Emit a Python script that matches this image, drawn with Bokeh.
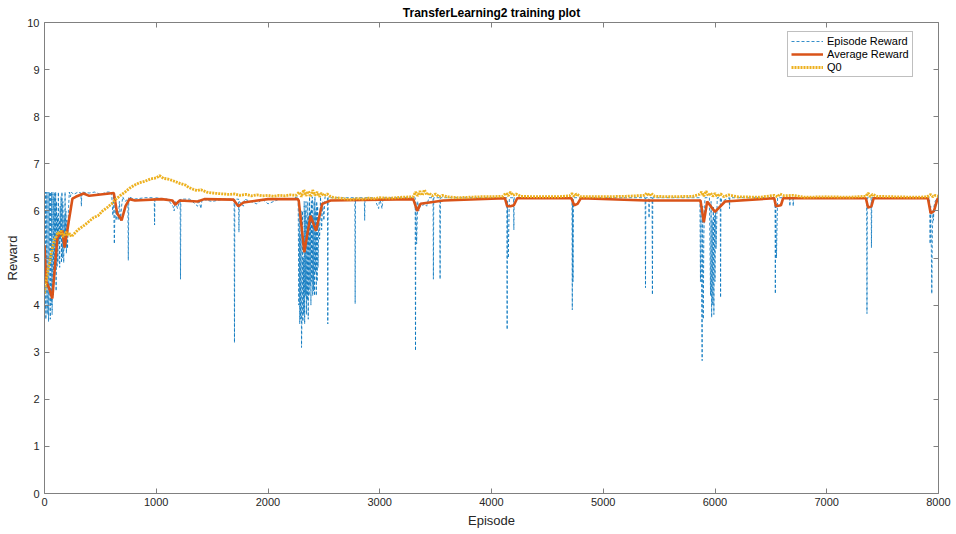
from bokeh.plotting import figure
from bokeh.models import LinearAxis, Legend, LegendItem, FixedTicker, Range1d, CustomLabelingPolicy
from bokeh.embed import file_html
from bokeh.resources import INLINE

# ---------------- data ----------------
episode_x = [
    0, 4, 8, 12, 16, 20, 24, 28, 32, 36, 40, 44, 48, 52, 56, 60, 64, 68, 72, 76,
    80, 84, 88, 92, 96, 100, 104, 108, 112, 116, 120, 124, 128, 132, 136, 140, 144, 148, 152, 156,
    160, 164, 168, 172, 176, 180, 184, 188, 192, 196, 200, 206, 214, 222, 232, 240,
    260, 300, 326, 330, 334, 400, 450, 500, 560, 600,
    612, 618, 625, 632, 640, 650, 660, 670, 680, 690, 700, 720, 746, 750, 754, 800,
    900, 982, 985, 988, 1100, 1150, 1160, 1170, 1190, 1214, 1217, 1220, 1300, 1370, 1380, 1400, 1410, 1500, 1600,
    1697, 1700, 1703, 1737, 1740, 1743, 1780, 1790, 1900, 1950, 2000, 2100, 2200, 2270,
    2276, 2280, 2284, 2288, 2292, 2296, 2300, 2304, 2308, 2312, 2316, 2320, 2324, 2328, 2332, 2336,
    2340, 2344, 2348, 2352, 2356, 2360, 2364, 2368, 2372, 2376, 2380, 2384, 2388, 2392, 2396, 2400,
    2404, 2408, 2412, 2416, 2420, 2424, 2428, 2432, 2436, 2440, 2444, 2448, 2454, 2462, 2470,
    2480, 2490, 2500, 2510, 2532, 2535, 2538, 2600, 2700, 2777, 2780, 2783, 2862, 2865, 2868,
    2950, 2990, 3000, 3020, 3030, 3200, 3317, 3320, 3323, 3330, 3340, 3350, 3360, 3380, 3400, 3420,
    3440, 3477, 3480, 3483, 3537, 3540, 3543, 3700, 3900, 4100, 4137, 4140, 4143, 4150, 4160, 4197, 4200,
    4203, 4400, 4600, 4720, 4723, 4726, 4730, 4734, 5000, 5200, 5375, 5378, 5381, 5407, 5410, 5413,
    5437, 5440, 5443, 5600, 5800, 5865, 5870, 5875, 5880, 5885, 5890, 5895, 5900, 5905, 5910, 5950,
    5960, 5965, 5970, 5975, 5980, 5985, 5990, 5995, 6000, 6005, 6010, 6020, 6047, 6050, 6053, 6060,
    6127, 6130, 6133, 6300, 6537, 6540, 6543, 6550, 6560, 6667, 6670, 6673, 6697, 6700, 6703, 7000,
    7200, 7357, 7360, 7363, 7397, 7400, 7403, 7600, 7800, 7920, 7925, 7930, 7935, 7940, 7945, 7950,
    7955, 7960, 7970, 7990, 8000,
]
episode_reward = [
    4.4, 3.9, 6.4, 3.7, 4.2, 6.4, 3.8, 4.0, 6.4, 3.65, 4.3, 6.4, 4.1, 3.7, 6.4, 4.0, 6.4, 3.8, 4.6, 6.4,
    4.2, 6.3, 4.8, 6.4, 4.9, 6.4, 4.3, 6.2, 4.8, 5.9, 4.9, 6.4, 5.3, 5.8, 4.8, 6.1, 5.4, 6.3, 4.9, 6.4,
    5.0, 6.2, 5.6, 4.9, 5.9, 5.2, 6.4, 5.5, 6.0, 5.1, 5.8, 5.2, 6.0, 6.4, 6.3, 6.4,
    6.35, 6.4, 6.38, 6.1, 6.4, 6.38, 6.4, 6.35, 6.4, 6.4,
    5.9, 6.4, 5.3, 6.3, 5.8, 6.0, 5.8, 6.2, 5.8, 6.1, 6.3, 6.2, 6.25, 4.95, 6.3, 6.25,
    6.28, 6.28, 5.7, 6.28, 6.25, 6.1, 6.0, 6.2, 6.05, 6.25, 4.55, 6.25, 6.25, 6.1, 6.25, 6.05, 6.25, 6.2, 6.25,
    6.25, 3.2, 6.25, 6.25, 5.55, 6.2, 6.1, 6.25, 6.15, 6.25, 6.15, 6.25, 6.25, 6.3,
    4.0, 6.2, 3.6, 5.5, 3.7, 6.0, 3.1, 3.7, 6.0, 3.65, 5.0, 3.8, 6.2, 3.6, 6.0, 4.2,
    6.2, 3.8, 5.8, 4.1, 6.2, 3.7, 5.9, 4.2, 6.3, 4.4, 6.0, 4.0, 6.2, 4.5, 6.3, 4.2,
    5.9, 4.3, 6.2, 4.2, 6.3, 4.7, 6.0, 4.2, 6.2, 4.5, 6.1, 4.8, 5.8, 5.4, 6.3,
    5.6, 6.2, 5.8, 6.3, 6.28, 3.6, 6.28, 6.28, 6.28, 6.28, 4.03, 6.28, 6.28, 5.8, 6.28,
    6.28, 6.05, 6.28, 6.05, 6.28, 6.28, 6.28, 3.03, 6.2, 5.3, 6.2, 6.0, 6.1, 6.1, 6.15, 6.1,
    6.28, 6.28, 4.55, 6.28, 6.28, 4.55, 6.28, 6.28, 6.28, 6.28, 6.28, 3.48, 6.2, 5.0, 6.28, 6.28, 5.6,
    6.28, 6.28, 6.28, 6.28, 3.9, 6.2, 4.5, 6.28, 6.28, 6.28, 6.28, 4.37, 6.28, 6.28, 5.85, 6.28,
    6.28, 4.22, 6.28, 6.28, 6.28, 6.28, 4.5, 6.2, 4.2, 2.82, 6.1, 3.7, 5.4, 5.9, 6.28, 6.28,
    4.2, 6.2, 3.74, 5.8, 4.0, 6.1, 3.8, 5.9, 4.5, 6.0, 5.2, 6.28, 6.28, 4.16, 6.28, 6.2,
    6.28, 6.05, 6.28, 6.28, 6.28, 4.24, 6.2, 5.0, 6.28, 6.28, 6.1, 6.28, 6.28, 6.1, 6.28, 6.28,
    6.28, 6.28, 3.82, 6.28, 6.28, 5.22, 6.28, 6.28, 6.28, 6.28, 5.3, 6.1, 5.4, 4.24, 5.5, 6.0,
    5.8, 6.1, 6.2, 6.28, 6.3,
]

avg_x = [
    0, 15, 40, 70, 115, 160, 180, 215, 250, 280, 350, 400, 620, 650, 690, 725, 760, 810, 1050, 1145,
    1170, 1210, 1370, 1430, 1690, 1735, 1780, 2000, 2265, 2275, 2325, 2380, 2430, 2485, 2560, 3300,
    3335, 3365, 3570, 4120, 4140, 4170, 4200, 4230, 4715, 4740, 4770, 4800, 5380, 5450, 5870, 5900,
    5930, 6000, 6090, 6530, 6545, 6590, 6610, 7350, 7370, 7400, 7420, 7905, 7930, 7960, 7990, 8000,
]
avg_reward = [
    5.27, 4.5, 4.37, 4.14, 5.43, 5.58, 5.22, 5.75, 6.26, 6.3, 6.37, 6.32, 6.38, 5.95, 5.8, 6.1, 6.25, 6.22, 6.25, 6.22,
    6.13, 6.22, 6.2, 6.25, 6.24, 6.1, 6.18, 6.25, 6.25, 6.22, 5.12, 5.9, 5.58, 6.15, 6.22, 6.25,
    6.0, 6.15, 6.22, 6.27, 6.1, 6.1, 6.12, 6.27, 6.27, 6.12, 6.15, 6.27, 6.22, 6.22, 6.22, 5.76,
    6.2, 5.98, 6.2, 6.27, 6.1, 6.12, 6.27, 6.27, 6.07, 6.1, 6.27, 6.27, 5.95, 6.0, 6.25, 6.27,
]

q0_x = [
    0, 15, 30, 45, 60, 75, 90, 105, 120, 135, 150, 165, 180, 195, 210, 225, 240, 260, 280, 300,
    330, 360, 400, 440, 480, 520, 560, 600, 640, 680, 720, 760, 800, 850, 900, 950, 1000, 1030, 1065, 1100,
    1150, 1215, 1260, 1290, 1330, 1365, 1400, 1450, 1500, 1545, 1600, 1650, 1700, 1750, 1800, 1850, 1900, 1950, 2000, 2050,
    2100, 2150, 2200, 2250, 2280, 2300, 2320, 2340, 2360, 2380, 2400, 2420, 2440, 2460, 2480, 2500, 2530, 2560, 2600, 2650,
    2700, 2750, 2800, 2850, 2900, 2950, 3000, 3100, 3200, 3300, 3320, 3340, 3360, 3380, 3400, 3420, 3440, 3470, 3500, 3530,
    3560, 3600, 3700, 3800, 3900, 4000, 4100, 4130, 4150, 4170, 4190, 4220, 4260, 4400, 4600, 4700, 4720, 4740, 4760, 4800,
    5000, 5200, 5370, 5390, 5410, 5430, 5460, 5600, 5800, 5860, 5880, 5900, 5920, 5940, 5960, 5980, 6000, 6020, 6050, 6080,
    6120, 6200, 6400, 6530, 6560, 6580, 6620, 6700, 6800, 7000, 7200, 7350, 7370, 7390, 7410, 7450, 7600, 7800, 7900, 7930,
    7950, 7970, 8000,
]
q0 = [
    4.25, 4.5, 4.75, 4.9, 5.1, 5.25, 5.4, 5.45, 5.55, 5.5, 5.58, 5.45, 5.5, 5.55, 5.48, 5.52, 5.45, 5.5, 5.55, 5.6,
    5.65, 5.7, 5.78, 5.86, 5.9, 6.0, 6.07, 6.15, 6.25, 6.33, 6.4, 6.48, 6.54, 6.6, 6.63, 6.68, 6.7, 6.75, 6.69, 6.68,
    6.64, 6.58, 6.55, 6.5, 6.46, 6.43, 6.45, 6.4, 6.38, 6.37, 6.36, 6.35, 6.36, 6.33, 6.35, 6.32, 6.34, 6.32, 6.33, 6.31,
    6.33, 6.32, 6.34, 6.33, 6.4, 6.3, 6.45, 6.32, 6.42, 6.3, 6.44, 6.33, 6.4, 6.3, 6.38, 6.32, 6.36, 6.3, 6.28, 6.27,
    6.25, 6.24, 6.26, 6.25, 6.27, 6.26, 6.28, 6.27, 6.29, 6.3, 6.4, 6.32, 6.42, 6.33, 6.45, 6.34, 6.38, 6.32, 6.36, 6.3,
    6.33, 6.3, 6.28, 6.29, 6.3, 6.3, 6.31, 6.38, 6.32, 6.4, 6.33, 6.36, 6.31, 6.3, 6.3, 6.32, 6.37, 6.31, 6.36, 6.3,
    6.3, 6.31, 6.33, 6.38, 6.32, 6.37, 6.31, 6.3, 6.31, 6.35, 6.4, 6.31, 6.42, 6.32, 6.38, 6.31, 6.37, 6.31, 6.36, 6.3,
    6.34, 6.3, 6.29, 6.33, 6.3, 6.36, 6.32, 6.33, 6.29, 6.3, 6.29, 6.31, 6.38, 6.3, 6.35, 6.31, 6.3, 6.29, 6.3, 6.35,
    6.3, 6.33, 6.31,
]

x_ticks = [0, 1000, 2000, 3000, 4000, 5000, 6000, 7000, 8000]
y_ticks = [0, 1, 2, 3, 4, 5, 6, 7, 8, 9, 10]

# ---------------- figure ----------------
FONT = "Liberation Sans"
AX = "#262626"

p = figure(width=956, height=534, output_backend="svg", toolbar_location=None,
           x_range=Range1d(0, 8000), y_range=Range1d(0, 10),
           min_border_left=44, min_border_right=18, min_border_top=22, min_border_bottom=41,
           x_axis_label="Episode", y_axis_label="Reward")
p.background_fill_color = "white"
p.border_fill_color = "white"
p.outline_line_color = None
p.grid.visible = False

p.title.text = "TransferLearning2 training plot"
p.title.align = "center"
p.title.text_font = FONT
p.title.text_font_size = "12px"
p.title.text_font_style = "bold"
p.title.text_color = "black"
p.title.standoff = 5
p.title.offset = 0

for ax, ticks in ((p.xaxis[0], x_ticks), (p.yaxis[0], y_ticks)):
    ax.ticker = FixedTicker(ticks=ticks)
    ax.major_tick_in = 5
    ax.major_tick_out = 0
    ax.minor_tick_in = 0
    ax.minor_tick_out = 0
    ax.axis_line_color = "#808080"
    ax.major_tick_line_color = "#808080"
    ax.major_label_text_font = FONT
    ax.major_label_text_font_size = "11px"
    ax.major_label_text_color = AX
    ax.axis_label_text_font = FONT
    ax.axis_label_text_font_size = "13px"
    ax.axis_label_text_font_style = "normal"
    ax.axis_label_text_color = AX
p.xaxis[0].major_label_standoff = 4
p.xaxis[0].axis_label_standoff = 4
p.yaxis[0].major_label_standoff = 5
p.yaxis[0].axis_label_standoff = 4

for loc, ticks in (("above", x_ticks), ("right", y_ticks)):
    a = LinearAxis(ticker=FixedTicker(ticks=ticks), major_tick_in=5, major_tick_out=0,
                   minor_tick_in=0, minor_tick_out=0, axis_line_color="#808080",
                   major_tick_line_color="#808080",
                   major_label_policy=CustomLabelingPolicy(code="return new Set()"),
                   major_label_text_font_size="0px",
                   major_label_standoff=0)
    p.add_layout(a, loc)

r_ep = p.line(episode_x, episode_reward, line_color="#0072BD", line_width=0.8, line_dash="3 2")
r_avg = p.line(avg_x, avg_reward, line_color="#D95319", line_width=2.6)
r_q0 = p.line(q0_x, q0, line_color="#EDB120", line_width=2.8, line_dash="2 1")

legend = Legend(items=[LegendItem(label="Episode Reward", renderers=[r_ep]),
                       LegendItem(label="Average Reward", renderers=[r_avg]),
                       LegendItem(label="Q0", renderers=[r_q0])],
                location=(743, 416))
legend.label_text_font = FONT
legend.label_text_font_size = "11px"
legend.label_text_color = "black"
legend.label_height = 12
legend.glyph_height = 12
legend.glyph_width = 32
legend.label_standoff = 4
legend.spacing = 1
legend.padding = 3
legend.margin = 0
legend.border_line_color = "#808080"
legend.border_line_width = 1
legend.background_fill_color = "white"
legend.background_fill_alpha = 1
p.add_layout(legend, "center")

open("out.html", "w").write(file_html(p, INLINE))
